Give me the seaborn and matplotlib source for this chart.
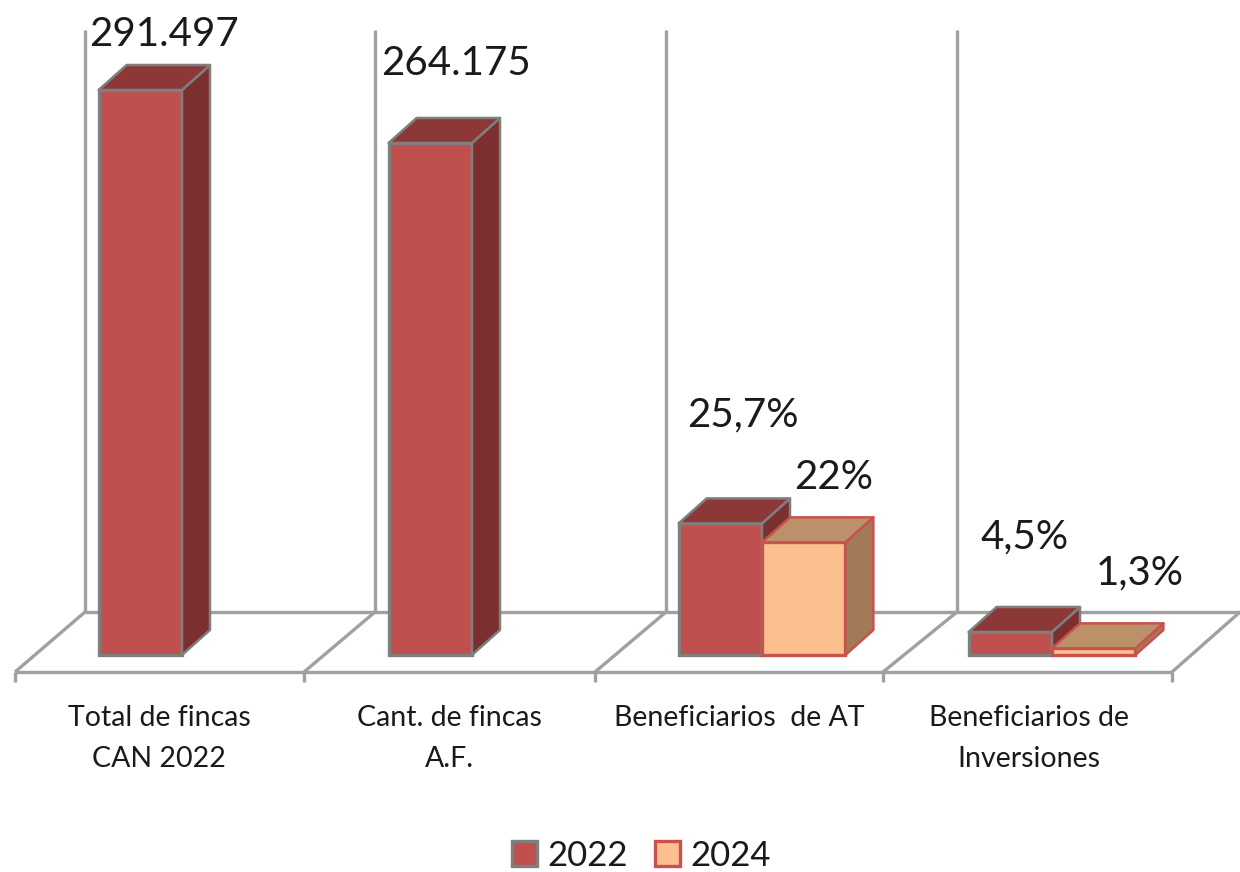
#!/usr/bin/env python3
"""Fincas and beneficiaries chart, bars with a drawn 3D look."""
import numpy as np
import pandas as pd
import matplotlib
matplotlib.use('Agg')
import matplotlib.pyplot as plt
from matplotlib.patches import Patch, Polygon
from matplotlib.transforms import ScaledTranslation
import seaborn as sns

categories = ['Total de fincas\nCAN 2022', 'Cant. de fincas\nA.F.', 'Beneficiarios  de AT',
              'Beneficiarios de\nInversiones']
years = ['2022', '2024']
# percentages are plotted as a share of the 264.175 fincas
values_2022 = [291497, 264175, 67893, 11888]
values_2024 = [np.nan, np.nan, 58119, 3434]
labels_2022 = ['291.497', '264.175', '25,7%', '4,5%']
labels_2024 = [None, None, '22%', '1,3%']

W, H = 1240, 872
FLOOR_Y = 672
BASE_Y = 655
PX_PER_UNIT = 565 / 291497
DEPTH_X, DEPTH_Y = 28, 25

FRONT = {'2022': '#C0504D', '2024': '#FBC08E'}
TOP = {'2022': '#8C3836', '2024': '#BC9069'}
SIDE = {'2022': '#7B2F2E', '2024': '#A17A58'}
EDGE = {'2022': '#7F7F7F', '2024': '#C9524E'}
GREY = '#A0A0A0'

# label offset from the bar top centre, in pixels
offsets_2022 = [(24, 56), (26, 79), (23, 108), (14, 95)]
offsets_2024 = [None, None, (30, 65), (46, 75)]

sns.set_theme(style='white')
plt.rcParams['font.family'] = ['Lato', 'DejaVu Sans']
plt.rcParams['text.color'] = '#1A1A1A'

df = pd.DataFrame({
    'category': categories * 2,
    'year': [years[0]] * 4 + [years[1]] * 4,
    'value': values_2022 + values_2024,
})

fig = plt.figure(figsize=(W / 100, H / 100), dpi=100)
ax = fig.add_axes([0, 1 - FLOOR_Y / H, 1, FLOOR_Y / H])
sns.barplot(data=df, x='category', y='value', hue='year', order=categories, hue_order=years,
            width=0.575, gap=0, saturation=1, ax=ax, legend=False, palette=FRONT)

# axes limits put the bars on the same pixels as the original
ax.set_xlim((0 - 182) / 290, (W - 182) / 290)
ax.set_ylim(-(FLOOR_Y - BASE_Y) / PX_PER_UNIT, BASE_Y / PX_PER_UNIT)
ax.set_xlabel('')
ax.set_ylabel('')
ax.set_yticks([])
sns.despine(ax=ax, left=True, bottom=True)
ax.patch.set_alpha(0)


def px(x, y):
    return (x - 182) / 290, (BASE_Y - y) / PX_PER_UNIT


def chrome(xs, ys):
    pts = [px(x, y) for x, y in zip(xs, ys)]
    ax.plot([p[0] for p in pts], [p[1] for p in pts], color=GREY, lw=2.4,
            solid_capstyle='butt', clip_on=False, zorder=1)


# floor and back walls
tick_x = [15, 304, 595, 883, 1172]
wall_x = [85, 375, 666, 957, 1240]
chrome([15, 1172], [FLOOR_Y, FLOOR_Y])
chrome([85, 1240], [612, 612])
for tx, wx in zip(tick_x, wall_x):
    chrome([tx, wx], [FLOOR_Y, 612])
    chrome([tx, tx], [FLOOR_Y, 682])
for wx in wall_x[:4]:
    chrome([wx, wx], [612, 30])

dx = DEPTH_X / 290
dy = DEPTH_Y / PX_PER_UNIT
for i, (year, container) in enumerate(zip(years, ax.containers)):
    for bar in container:
        h = bar.get_height()
        if not np.isfinite(h) or h == 0:
            continue
        x0, x1 = bar.get_x(), bar.get_x() + bar.get_width()
        z = 3 + i
        bar.set_edgecolor(EDGE[year])
        bar.set_linewidth(2.4)
        bar.set_zorder(z)
        ax.add_patch(Polygon([(x1, 0), (x1 + dx, dy), (x1 + dx, h + dy), (x1, h)], closed=True,
                             facecolor=SIDE[year], edgecolor=EDGE[year], lw=1.8, zorder=z,
                             joinstyle='round'))
        ax.add_patch(Polygon([(x0, h), (x1, h), (x1 + dx, h + dy), (x0 + dx, h + dy)], closed=True,
                             facecolor=TOP[year], edgecolor=EDGE[year], lw=1.8, zorder=z,
                             joinstyle='round'))

# value labels
for container, labels, offsets in zip(ax.containers, [labels_2022, labels_2024],
                                      [offsets_2022, offsets_2024]):
    bars = [b for b in container if np.isfinite(b.get_height()) and b.get_height() > 0]
    shown = [(t, o) for t, o in zip(labels, offsets) if t is not None]
    for bar, (text, (ox, oy)) in zip(bars, shown):
        ax.annotate(text, (bar.get_x() + bar.get_width() / 2, bar.get_height()),
                    xytext=(ox * 0.72, oy * 0.72), textcoords='offset points',
                    ha='center', va='center', fontsize=29, annotation_clip=False, zorder=6)

# category labels sit at the front of the floor, left of the bars
ax.set_xticks(range(len(categories)))
ax.set_xticklabels(categories, fontsize=20.5, linespacing=1.7, color='#1A1A1A')
ax.tick_params(axis='x', length=0, pad=24)
shift = ScaledTranslation(-23 / 100, 0, fig.dpi_scale_trans)
for tick in ax.get_xticklabels():
    tick.set_transform(tick.get_transform() + shift)

handles = [Patch(facecolor=FRONT[y], edgecolor=EDGE[y], lw=2.4, label=y) for y in years]
fig.legend(handles=handles, ncols=2, frameon=False, loc='center',
           bbox_to_anchor=(641 / W, 1 - 856 / H), fontsize=25,
           handlelength=0.72, handleheight=0.72, handletextpad=0.3, columnspacing=0.78)

fig.savefig('out.png', dpi=100)
plt.close(fig)
